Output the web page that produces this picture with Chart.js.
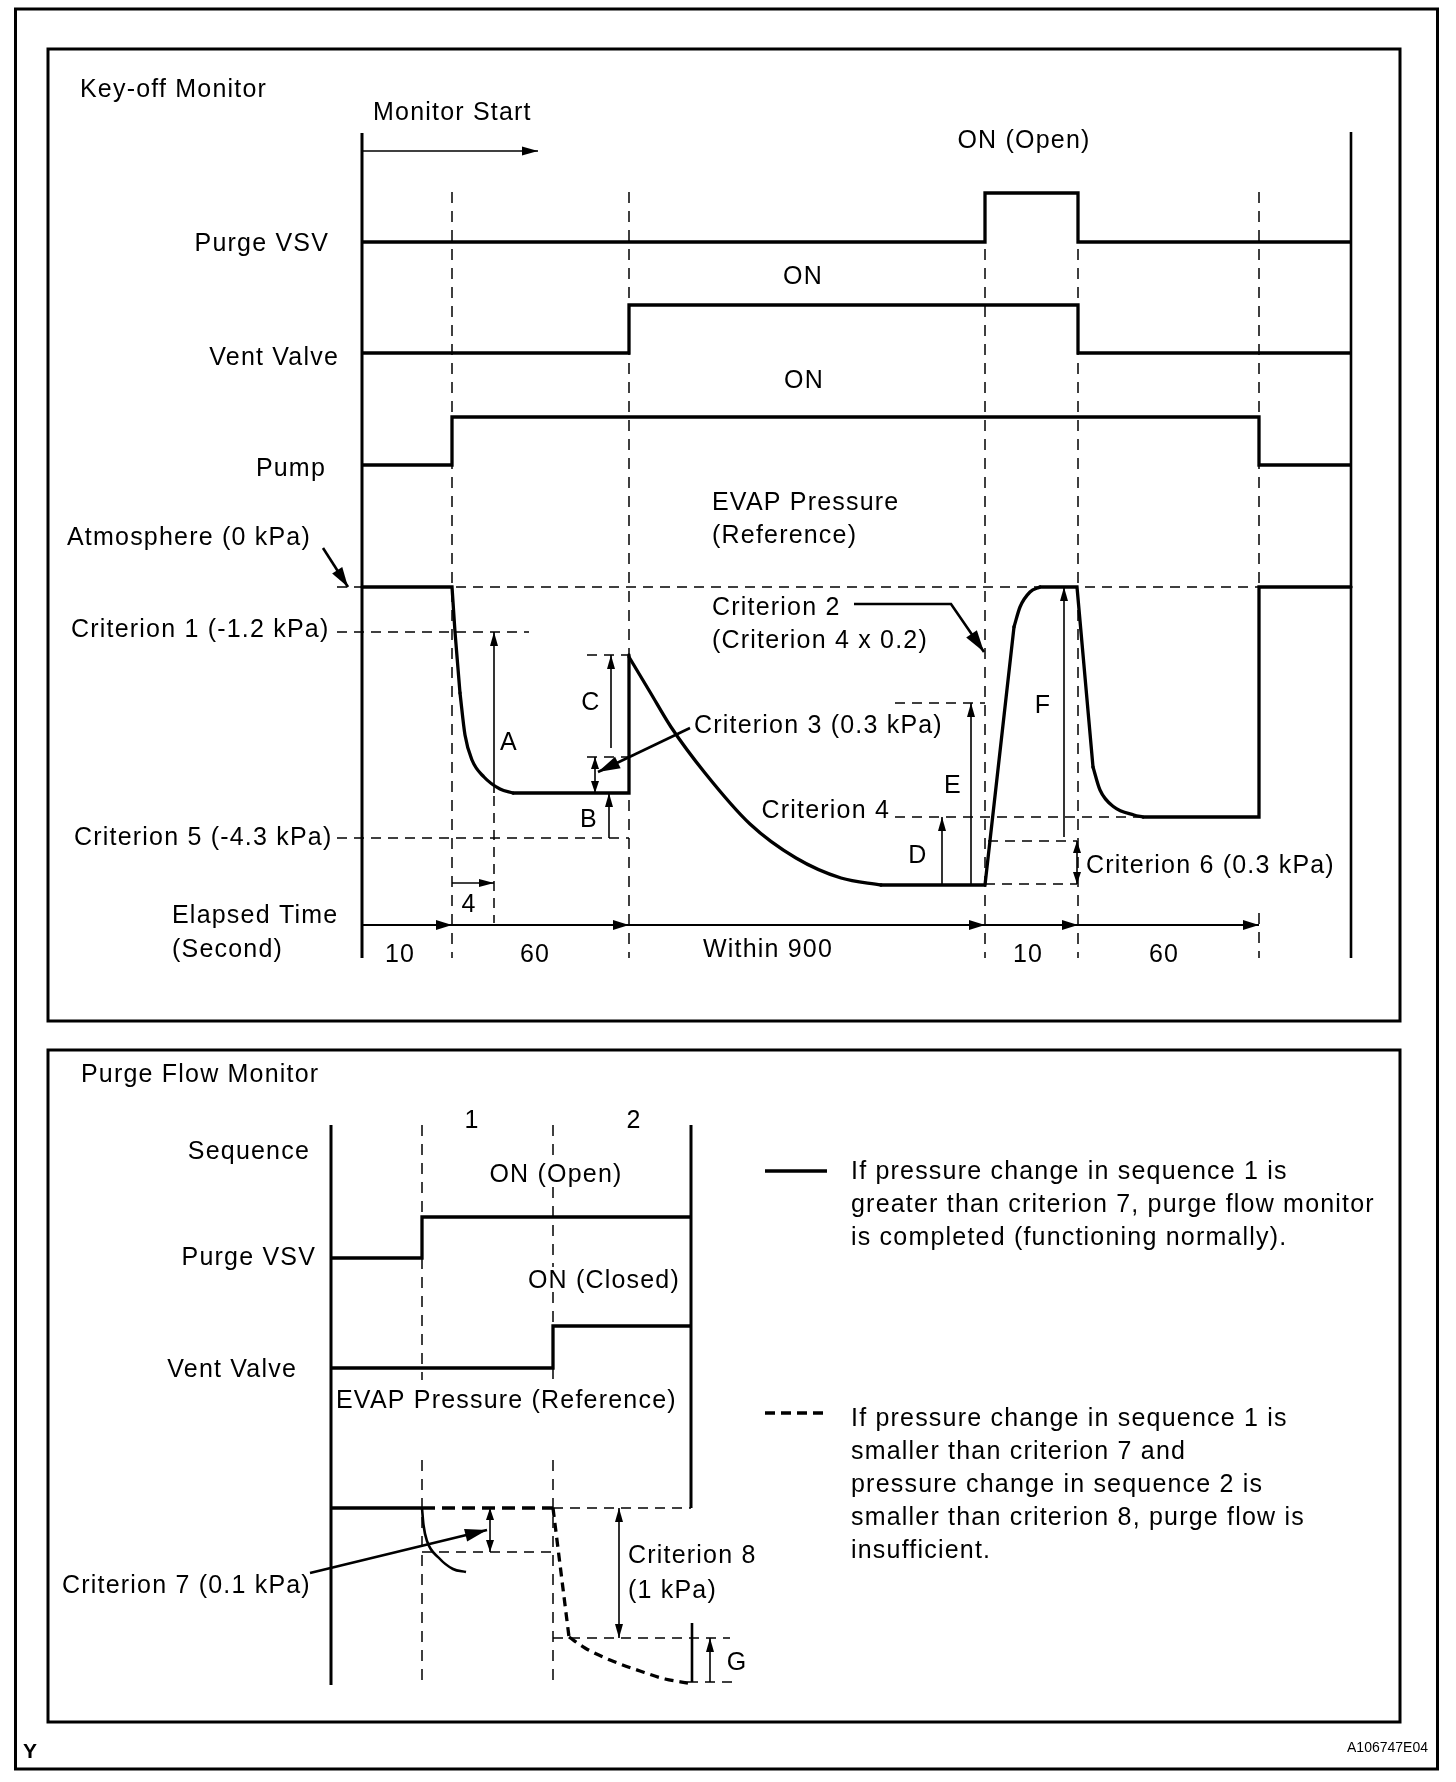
<!DOCTYPE html>
<html>
<head>
<meta charset="utf-8">
<title>Key-off Monitor / Purge Flow Monitor</title>
<script src="https://cdn.jsdelivr.net/npm/chart.js@4/dist/chart.umd.min.js"></script>
<style>
html,body{margin:0;padding:0;background:#fff;}
canvas{display:block;}
</style>
</head>
<body>
<canvas id="diagram" width="1456" height="1782"></canvas>
<script>
// ---------------- schematic data (diagram units) ----------------
// Key-off monitor: phase boundaries along the (not-to-scale) time axis
const keyOffEdges = [362, 452, 629, 985, 1078, 1259, 1351];
const elapsedLabels = ['10', '60', 'Within 900', '10', '60'];
const elapsedLabelX = [400, 535, 768, 1028, 1164];
// ON/OFF state of each signal in each phase
const purgeVsvOn  = [0, 0, 0, 1, 0, 0];
const ventValveOn = [0, 0, 1, 1, 0, 0];
const pumpOn      = [0, 1, 1, 1, 1, 0];
// signal rows: [off level, on level]
const purgeRow = [242, 193];
const ventRow  = [353, 305];
const pumpRow  = [465, 417];

// EVAP pressure (key-off monitor), straight and curved pieces
const pressA = [[362,587],[452,587],[455,632],[460,693]];
const pressB = [[460,693],[465,735],[472,760],[484,777],[500,789],[513,793]];
const pressC = [[513,793],[629,793],[629,655]];
const pressD = [[629,657],[650,692],[671,727],[705,773],[750,824],[796,858],[841,878],[881,885]];
const pressE = [[881,885],[985,885],[1014,627]];
const pressF = [[1014,627],[1020,607],[1030,592],[1040,587]];
const pressG = [[1040,587],[1077,587],[1093,767]];
const pressH = [[1093,767],[1100,790],[1114,807],[1134,815],[1143,817]];
const pressI = [[1143,817],[1259,817],[1259,587],[1351,587]];

// criterion reference levels (key-off)
const atmosphereLevel = [[337,587],[1259,587]];
const criterion1Level = [[337,632],[529,632]];
const criterion5Level = [[337,838],[629,838]];
const cTopLevel       = [[587,655],[629,655]];
const criterion3Level = [[587,757],[629,757]];
const eLevel          = [[895,703],[985,703]];
const criterion4Level = [[895,817],[1143,817]];
const crit6Upper      = [[988,841],[1077,841]];
const crit6Lower      = [[985,884],[1077,884]];
const fourRef         = [[494,796],[494,923]];

// Purge flow monitor
const purgeEdges = [331, 422, 553, 691];
const purge2On = [0, 1, 1];
const vent2On  = [0, 0, 1];
const purge2Row = [1258, 1217];
const vent2Row  = [1368, 1326];
const normalBase  = [[331,1508],[422,1508]];
const normalCurve = [[422,1508],[423.5,1525],[427,1541],[439,1558],[453,1569],[466,1572]];
const faultBase   = [[422,1508],[553,1508]];
const faultDrop   = [[553,1508],[569,1637]];
const faultCurve  = [[569,1637],[585,1648],[610,1660],[640,1671],[665,1679],[688,1683]];

const frames = [[15.5,9,1437.5,1769],[48,49,1400,1021],[48,1050,1400,1722]];

const legendNormal = ['If pressure change in sequence 1 is','greater than criterion 7, purge flow monitor','is completed (functioning normally).'];
const legendFault  = ['If pressure change in sequence 1 is','smaller than criterion 7 and','pressure change in sequence 2 is','smaller than criterion 8, purge flow is','insufficient.'];

// text labels: [text, x, baseline y, align]
const labels = [
  ['Key-off Monitor',80,97,'left'],
  ['Monitor Start',373,120,'left'],
  ['ON (Open)',1024,148,'center'],
  ['Purge VSV',329,251,'right'],
  ['ON',803,284,'center'],
  ['Vent Valve',339,365,'right'],
  ['ON',804,388,'center'],
  ['Pump',326,476,'right'],
  ['EVAP Pressure',712,510,'left'],
  ['(Reference)',712,543,'left'],
  ['Atmosphere (0 kPa)',67,545,'left'],
  ['Criterion 1 (-1.2 kPa)',71,637,'left'],
  ['Criterion 2',712,615,'left'],
  ['(Criterion 4 x 0.2)',712,648,'left'],
  ['Criterion 3 (0.3 kPa)',694,733,'left'],
  ['Criterion 4',890,818,'right'],
  ['Criterion 5 (-4.3 kPa)',74,845,'left'],
  ['Criterion 6 (0.3 kPa)',1086,873,'left'],
  ['A',509,750,'center'],
  ['B',589,827,'center'],
  ['C',591,710,'center'],
  ['D',918,863,'center'],
  ['E',953,793,'center'],
  ['F',1043,713,'center'],
  ['4',469,912,'center'],
  ['Elapsed Time',172,923,'left'],
  ['(Second)',172,957,'left'],
  ['Purge Flow Monitor',81,1082,'left'],
  ['1',472,1128,'center'],
  ['2',634,1128,'center'],
  ['Sequence',310,1159,'right'],
  ['ON (Open)',556,1182,'center'],
  ['Purge VSV',316,1265,'right'],
  ['ON (Closed)',680,1288,'right'],
  ['Vent Valve',297,1377,'right'],
  ['EVAP Pressure (Reference)',336,1408,'left'],
  ['Criterion 7 (0.1 kPa)',62,1593,'left'],
  ['Criterion 8',628,1563,'left'],
  ['(1 kPa)',628,1598,'left'],
  ['G',737,1670,'center']
];

// ---------------- helpers ----------------
function steps(edges, states, row) {
  const pts = [];
  states.forEach((s, i) => {
    const y = row[s];
    pts.push([edges[i], y], [edges[i + 1], y]);
  });
  return pts;
}
function rectPts(r) {
  const [x0,y0,x1,y1] = r;
  return [[x0,y0],[x1,y0],[x1,y1],[x0,y1],[x0,y0]];
}
function path(points, o) {
  o = o || {};
  return {
    data: points.map(p => ({x: p[0], y: p[1]})),
    showLine: true,
    borderColor: '#000',
    backgroundColor: '#000',
    borderWidth: o.w || 1.6,
    borderDash: o.dash || [],
    tension: o.mono ? 0.4 : 0,
    cubicInterpolationMode: o.mono ? 'monotone' : 'default',
    borderCapStyle: o.cap || 'butt',
    borderJoinStyle: 'miter',
    pointRadius: 0,
    pointHoverRadius: 0,
    fill: false,
    heads: o.heads || null,
    headL: o.hl || 14,
    headW: o.hw || 8
  };
}

const THIN_DASH = [10, 7];
const V_DASH = [11, 8];
const datasets = [];
// frames
frames.forEach(f => datasets.push(path(rectPts(f), {w: 3, cap: 'square'})));

// ---- Key-off monitor ----
keyOffEdges.slice(1, 5).forEach(x => datasets.push(path([[x,192],[x,958]], {w: 1.5, dash: V_DASH})));
// last boundary line is interrupted by the Criterion 6 label
datasets.push(path([[keyOffEdges[5],192],[keyOffEdges[5],817]], {w: 1.5, dash: V_DASH}));
datasets.push(path([[keyOffEdges[5],913],[keyOffEdges[5],958]], {w: 1.5, dash: V_DASH}));
[atmosphereLevel, criterion1Level, criterion5Level, cTopLevel, criterion3Level, eLevel,
 criterion4Level, crit6Upper, crit6Lower, fourRef].forEach(p => datasets.push(path(p, {w: 1.5, dash: THIN_DASH})));
datasets.push(path([[keyOffEdges[0],133],[keyOffEdges[0],958]], {w: 3}));
datasets.push(path([[keyOffEdges[6],132],[keyOffEdges[6],958]], {w: 2.6}));
datasets.push(path([[362,151],[538,151]], {w: 1.6, heads: 'end', hl: 16, hw: 9}));
datasets.push(path(steps(keyOffEdges, purgeVsvOn, purgeRow), {w: 3.3}));
datasets.push(path(steps(keyOffEdges, ventValveOn, ventRow), {w: 3.3}));
datasets.push(path(steps(keyOffEdges, pumpOn, pumpRow), {w: 3.3}));
[pressA, pressC, pressE, pressG, pressI].forEach(p => datasets.push(path(p, {w: 3.3, cap: 'round'})));
[pressB, pressD, pressF, pressH].forEach(p => datasets.push(path(p, {w: 3.3, cap: 'round', mono: true})));
// dimension arrows
datasets.push(path([[494,793],[494,632]], {heads: 'end'}));                 // A
datasets.push(path([[611,748],[611,655]], {heads: 'end'}));                 // C
datasets.push(path([[595,757],[595,793]], {heads: 'both', hl: 12, hw: 8})); // criterion 3
datasets.push(path([[609,838],[609,793]], {heads: 'end'}));                 // B
datasets.push(path([[942,885],[942,817]], {heads: 'end'}));                 // D
datasets.push(path([[971,885],[971,703]], {heads: 'end'}));                 // E
datasets.push(path([[1064,837],[1064,587]], {heads: 'end'}));               // F
datasets.push(path([[1077,841],[1077,884]], {heads: 'both', hl: 12, hw: 8}));// criterion 6
datasets.push(path([[452,883],[494,883]], {heads: 'end', hl: 15, hw: 8}));  // 4 s
// elapsed-time axis
datasets.push(path(keyOffEdges.slice(0, 6).map(x => [x, 925]), {w: 1.8, heads: [1,2,3,4,5], hl: 16, hw: 10}));
// pointers
datasets.push(path([[323,548],[348,587]], {w: 2.6, heads: 'end', hl: 20, hw: 12}));
datasets.push(path([[690,728],[598,772]], {w: 2.6, heads: 'end', hl: 22, hw: 13}));
datasets.push(path([[854,604],[951,604],[984,652]], {w: 2.6, heads: 'end', hl: 22, hw: 13}));

// ---- Purge flow monitor ----
datasets.push(path([[purgeEdges[1],1125],[purgeEdges[1],1380]], {w: 1.5, dash: V_DASH}));
datasets.push(path([[purgeEdges[1],1460],[purgeEdges[1],1685]], {w: 1.5, dash: V_DASH}));
// sequence-2 boundary, interrupted by its labels
[[1125,1157],[1187,1267],[1292,1380],[1460,1685]].forEach(r =>
  datasets.push(path([[purgeEdges[2],r[0]],[purgeEdges[2],r[1]]], {w: 1.5, dash: V_DASH})));
[[[422,1552],[553,1552]], [[553,1508],[691,1508]], [[553,1638],[730,1638]], [[688,1682],[737,1682]]]
  .forEach(p => datasets.push(path(p, {w: 1.5, dash: THIN_DASH})));
datasets.push(path([[purgeEdges[0],1125],[purgeEdges[0],1685]], {w: 3}));
datasets.push(path([[purgeEdges[3],1125],[purgeEdges[3],1508]], {w: 3}));
datasets.push(path(steps(purgeEdges, purge2On, purge2Row), {w: 3.3}));
datasets.push(path(steps(purgeEdges, vent2On, vent2Row), {w: 3.3}));
datasets.push(path(normalBase, {w: 3.3}));
datasets.push(path(normalCurve, {w: 2.6, mono: true}));
datasets.push(path(faultBase, {w: 3.3, dash: [13, 7]}));
datasets.push(path(faultDrop, {w: 3.3, dash: [9, 6]}));
datasets.push(path(faultCurve, {w: 3.3, dash: [9, 6], mono: true}));
datasets.push(path([[490,1508],[490,1552]], {heads: 'both', hl: 12, hw: 8}));  // criterion 7
datasets.push(path([[619,1508],[619,1638]], {heads: 'both', hl: 14, hw: 8}));  // criterion 8
datasets.push(path([[692,1623],[692,1682]], {w: 2.6}));
datasets.push(path([[710,1682],[710,1638]], {heads: 'end', hl: 14, hw: 8}));   // G
datasets.push(path([[310,1573],[487,1530]], {w: 2.6, heads: 'end', hl: 22, hw: 13}));
// legend samples
datasets.push(path([[765,1171],[827,1171]], {w: 3.3}));
datasets.push(path([[765,1413],[827,1413]], {w: 3.3, dash: [10, 6]}));

// ---------------- plugins ----------------
const FONT = '25px "Liberation Sans", Arial, Helvetica, sans-serif';

const arrowHeads = {
  id: 'arrowHeads',
  afterDatasetsDraw(chart) {
    const ctx = chart.ctx;
    chart.data.datasets.forEach((ds, i) => {
      if (!ds.heads) return;
      const pts = chart.getDatasetMeta(i).data;
      const n = pts.length;
      const draw = (tip, from) => {
        const a = Math.atan2(tip.y - from.y, tip.x - from.x);
        ctx.save();
        ctx.translate(tip.x, tip.y);
        ctx.rotate(a);
        ctx.beginPath();
        ctx.moveTo(0, 0);
        ctx.lineTo(-ds.headL, ds.headW / 2);
        ctx.lineTo(-ds.headL, -ds.headW / 2);
        ctx.closePath();
        ctx.fillStyle = '#000';
        ctx.fill();
        ctx.restore();
      };
      if (Array.isArray(ds.heads)) {
        ds.heads.forEach(k => draw(pts[k], pts[k - 1]));
      } else {
        if (ds.heads === 'end' || ds.heads === 'both') draw(pts[n - 1], pts[n - 2]);
        if (ds.heads === 'start' || ds.heads === 'both') draw(pts[0], pts[1]);
      }
    });
  }
};

const textLabels = {
  id: 'textLabels',
  afterDraw(chart) {
    const ctx = chart.ctx;
    const sx = chart.scales.x, sy = chart.scales.y;
    ctx.save();
    ctx.fillStyle = '#000';
    ctx.font = FONT;
    ctx.textBaseline = 'alphabetic';
    try { ctx.letterSpacing = '1.2px'; } catch (e) {}
    const put = (t, x, y, al) => {
      ctx.textAlign = al;
      ctx.fillText(t, sx.getPixelForValue(x), sy.getPixelForValue(y));
    };
    labels.forEach(l => put(l[0], l[1], l[2], l[3]));
    elapsedLabels.forEach((t, i) => put(t, elapsedLabelX[i], t === 'Within 900' ? 957 : 962, 'center'));
    legendNormal.forEach((t, i) => put(t, 851, 1179 + i * 33, 'left'));
    legendFault.forEach((t, i) => put(t, 851, 1426 + i * 33, 'left'));
    try { ctx.letterSpacing = '0px'; } catch (e) {}
    ctx.font = 'bold 21px "Liberation Sans", Arial, sans-serif';
    put('Y', 23, 1758, 'left');
    ctx.font = '14px "Liberation Sans", Arial, sans-serif';
    put('A106747E04', 1428, 1752, 'right');
    ctx.restore();
  }
};

new Chart(document.getElementById('diagram'), {
  type: 'scatter',
  data: { datasets },
  options: {
    responsive: false,
    devicePixelRatio: 1,
    animation: false,
    events: [],
    layout: { padding: 0 },
    scales: {
      x: { type: 'linear', min: 0, max: 1456, display: false },
      y: { type: 'linear', min: 0, max: 1782, reverse: true, display: false }
    },
    plugins: { legend: { display: false }, tooltip: { enabled: false } },
    elements: { point: { radius: 0 } }
  },
  plugins: [arrowHeads, textLabels]
});
</script>
</body>
</html>
